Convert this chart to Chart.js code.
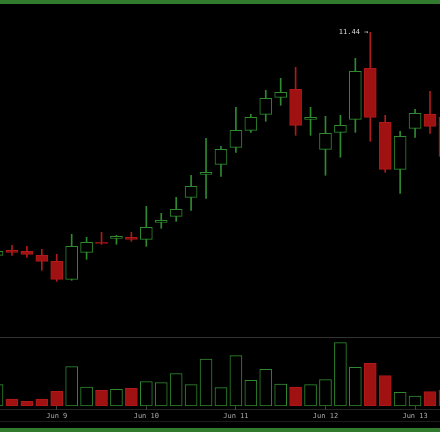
<!DOCTYPE html>
<html>
<head>
<meta charset="utf-8">
<script src="https://cdn.jsdelivr.net/npm/chart.js@4.4.1/dist/chart.umd.min.js"></script>
<style>
  html, body { margin: 0; padding: 0; background: #000; }
  #page { position: relative; width: 440px; height: 432px; background: #000; overflow: hidden; }
  .band { position: absolute; left: 0; width: 440px; height: 4px; background: #317b2e; }
  .rule { position: absolute; left: 0; width: 440px; height: 1px; }
  canvas { position: absolute; left: 0; }
</style>
</head>
<body>
<div id="page">
  <div class="band" style="top:0"></div>
  <canvas id="priceChart" width="440" height="333" style="top:4px"></canvas>
  <div class="rule" style="top:337px; background:#333"></div>
  <div class="rule" style="top:409px; background:#262626"></div>
  <div class="rule" style="top:421px; background:#1c1c1c"></div>
  <canvas id="volumeChart" width="440" height="90" style="top:338px"></canvas>
  <div class="band" style="top:428px"></div>
</div>
<script>
// 4 hour candles
const times = [
    'Jun 8 08:00', 'Jun 8 12:00', 'Jun 8 16:00', 'Jun 8 20:00',
    'Jun 9 00:00', 'Jun 9 04:00', 'Jun 9 08:00', 'Jun 9 12:00', 'Jun 9 16:00', 'Jun 9 20:00',
    'Jun 10 00:00', 'Jun 10 04:00', 'Jun 10 08:00', 'Jun 10 12:00', 'Jun 10 16:00', 'Jun 10 20:00',
    'Jun 11 00:00', 'Jun 11 04:00', 'Jun 11 08:00', 'Jun 11 12:00', 'Jun 11 16:00', 'Jun 11 20:00',
    'Jun 12 00:00', 'Jun 12 04:00', 'Jun 12 08:00', 'Jun 12 12:00', 'Jun 12 16:00', 'Jun 12 20:00',
    'Jun 13 00:00', 'Jun 13 04:00', 'Jun 13 08:00'
];
const opens  = [9.21, 9.26, 9.25, 9.21, 9.15, 8.97, 9.24, 9.34, 9.38, 9.39, 9.37, 9.54, 9.60, 9.79, 10.02, 10.12,
                10.29, 10.46, 10.62, 10.79, 10.87, 10.57, 10.27, 10.44, 10.57, 11.08, 10.54, 10.07, 10.48, 10.62, 10.59];
const highs  = [9.27, 9.31, 9.30, 9.27, 9.22, 9.42, 9.39, 9.44, 9.41, 9.44, 9.70, 9.63, 9.79, 10.01, 10.38, 10.30,
                10.69, 10.62, 10.86, 10.98, 11.09, 10.69, 10.60, 10.61, 11.18, 11.44, 10.61, 10.45, 10.67, 10.85, 10.66];
const lows   = [9.19, 9.21, 9.19, 9.06, 8.95, 8.96, 9.17, 9.32, 9.32, 9.35, 9.30, 9.48, 9.55, 9.66, 9.78, 10.00,
                10.24, 10.44, 10.55, 10.71, 10.41, 10.41, 10.01, 10.19, 10.44, 10.35, 10.04, 9.83, 10.39, 10.43, 10.16];
const closes = [9.25, 9.24, 9.22, 9.15, 8.97, 9.30, 9.34, 9.33, 9.40, 9.37, 9.49, 9.56, 9.67, 9.90, 10.04, 10.27,
                10.46, 10.59, 10.78, 10.84, 10.51, 10.59, 10.43, 10.51, 11.05, 10.59, 10.07, 10.40, 10.63, 10.50, 10.20];
const volumes = [214, 70, 47, 70, 147, 394, 190, 157, 167, 177, 244, 234, 324, 214, 470, 184,
                 504, 257, 367, 220, 190, 214, 264, 634, 387, 427, 304, 137, 100, 144, 160];

const upColor = '#2f8a2f';
const downColor = '#a01212';
const downBorder = '#b01a1a';

const isUp = opens.map((o, i) => closes[i] >= o);
const lineColors = isUp.map(u => u ? upColor : downBorder);
const fillColors = isUp.map(u => u ? '#000' : downColor);

// same visible window on both panels
const xMin = 0.2;
const xMax = 29.67;

// label the highest high
const annotate = {
    id: 'annotate',
    afterDatasetsDraw(chart) {
        let top = 0;
        highs.forEach((h, i) => { if (h > highs[top]) top = i; });
        const x = chart.scales.x.getPixelForValue(top);
        const y = chart.scales.y.getPixelForValue(highs[top]);
        const c = chart.ctx;
        c.save();
        c.font = "7px 'DejaVu Sans Mono', monospace";
        c.fillStyle = '#dddddd';
        c.textAlign = 'right';
        c.textBaseline = 'middle';
        c.fillText(highs[top].toFixed(2) + ' \u2192', x - 2, y);
        c.restore();
    }
};

const canvas_price = document.getElementById('priceChart');
const ctx_price = canvas_price.getContext('2d');

let chart_price = new Chart(ctx_price, {
    type: 'bar',
    data: {
        datasets: [{
            // bodies
            data: times.map((t, i) => ({ x: i, y: [opens[i], closes[i]] })),
            backgroundColor: fillColors,
            borderColor: lineColors,
            borderWidth: 1,
            borderSkipped: false,
            barThickness: 12,
            grouped: false,
            order: 0
        }, {
            // wicks
            data: times.map((t, i) => ({ x: i, y: [lows[i], highs[i]] })),
            backgroundColor: lineColors,
            borderWidth: 0,
            barThickness: 1,
            grouped: false,
            order: 1
        }]
    },
    options: {
        responsive: false,
        animation: false,
        layout: { padding: 0 },
        plugins: { legend: { display: false }, tooltip: { enabled: false } },
        scales: {
            x: { type: 'linear', min: xMin, max: xMax, offset: false, display: false },
            y: { min: 8.393, max: 11.723, display: false }
        }
    },
    plugins: [annotate]
});

const canvas_volume = document.getElementById('volumeChart');
const ctx_volume = canvas_volume.getContext('2d');

let chart_volume = new Chart(ctx_volume, {
    type: 'bar',
    data: {
        datasets: [{
            data: times.map((t, i) => ({ x: i, y: volumes[i] })),
            backgroundColor: fillColors,
            borderColor: lineColors,
            borderWidth: 1,
            borderSkipped: false,
            barThickness: 12
        }]
    },
    options: {
        responsive: false,
        animation: false,
        layout: { padding: 0 },
        plugins: { legend: { display: false }, tooltip: { enabled: false } },
        scales: {
            x: {
                type: 'linear',
                min: xMin,
                max: xMax,
                offset: false,
                afterBuildTicks: (scale) => {
                    scale.ticks = times
                        .map((t, i) => ({ t: t, value: i }))
                        .filter(d => d.t.endsWith('00:00'))
                        .map(d => ({ value: d.value }));
                },
                afterFit: (scale) => { scale.height = 22; },
                ticks: {
                    autoSkip: false,
                    maxRotation: 0,
                    padding: 2,
                    color: '#a8a8a8',
                    font: { family: "'DejaVu Sans Mono', monospace", size: 7 },
                    callback: (v) => times[v].split(' ').slice(0, 2).join(' ')
                },
                grid: { offset: false, drawOnChartArea: false, tickLength: 4, tickColor: '#444' },
                border: { display: false }
            },
            y: { min: 0, max: 680, display: false }
        }
    }
});
</script>
</body>
</html>
